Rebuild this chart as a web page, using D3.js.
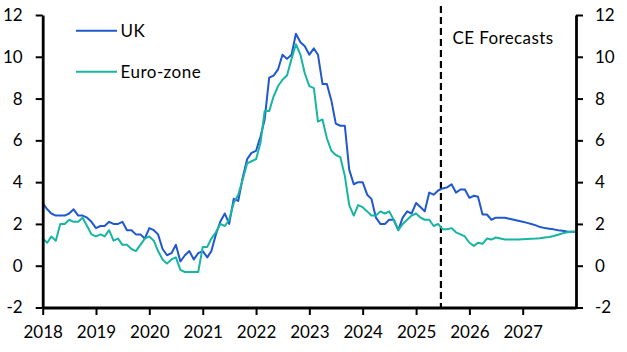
<!DOCTYPE html>
<html>
<head>
<meta charset="utf-8">
<script src="https://cdn.jsdelivr.net/npm/d3@7"></script>
<style>
  body { margin: 0; background: #fff; }
  svg text { font-family: Lato, "Open Sans", sans-serif; }
</style>
</head>
<body>
<div id="chart"></div>
<script>
// monthly CPI inflation (% y/y), Jan 2018 .. Jan 2028
const startYear = 2018;
const forecastStart = new Date(2025, 5, 20); // dashed line, after Jun 2025

const ukValues = [
  3.0, 2.7, 2.5, 2.4, 2.4, 2.4, 2.5, 2.7, 2.4, 2.4, 2.3, 2.1,
  1.8, 1.9, 1.9, 2.1, 2.0, 2.0, 2.1, 1.7, 1.7, 1.5, 1.5, 1.3,
  1.8, 1.7, 1.5, 0.8, 0.5, 0.6, 1.0, 0.2, 0.5, 0.7, 0.3, 0.6,
  0.7, 0.4, 0.7, 1.5, 2.1, 2.5, 2.0, 3.2, 3.1, 4.2, 5.1, 5.4,
  5.5, 6.2, 7.0, 9.0, 9.1, 9.4, 10.1, 9.9, 10.1, 11.1, 10.7, 10.5,
  10.1, 10.4, 10.1, 8.7, 8.7, 7.9, 6.8, 6.7, 6.7, 4.6, 3.9, 4.0,
  4.0, 3.4, 3.2, 2.3, 2.0, 2.0, 2.2, 2.2, 1.7, 2.3, 2.6, 2.5,
  3.0, 2.8, 2.6, 3.5, 3.4, 3.6, 3.7, 3.75, 3.9, 3.5, 3.65, 3.65,
  3.25, 3.35, 3.3, 2.45, 2.45, 2.2, 2.3, 2.3, 2.3, 2.25, 2.2, 2.15,
  2.1, 2.05, 2.0, 1.93, 1.85, 1.8, 1.77, 1.74, 1.7, 1.67, 1.64, 1.63,
  1.62
];

const euroValues = [
  1.3, 1.1, 1.4, 1.2, 2.0, 2.0, 2.2, 2.1, 2.1, 2.3, 1.9, 1.5,
  1.4, 1.5, 1.4, 1.7, 1.2, 1.3, 1.0, 1.0, 0.8, 0.7, 1.0, 1.3,
  1.4, 1.2, 0.7, 0.3, 0.1, 0.3, 0.4, -0.2, -0.3, -0.3, -0.3, -0.3,
  0.9, 0.9, 1.3, 1.6, 2.0, 1.9, 2.2, 3.0, 3.4, 4.1, 4.9, 5.0,
  5.1, 5.9, 7.4, 7.4, 8.1, 8.6, 8.9, 9.1, 9.9, 10.6, 10.1, 9.2,
  8.6, 8.5, 6.9, 7.0, 6.1, 5.5, 5.3, 5.2, 4.3, 2.9, 2.4, 2.9,
  2.8, 2.6, 2.4, 2.4, 2.6, 2.5, 2.6, 2.2, 1.7, 2.0, 2.2, 2.4,
  2.5, 2.3, 2.2, 2.2, 1.9, 2.0, 1.75, 1.75, 1.8, 1.6, 1.5, 1.4,
  1.1, 0.95, 1.1, 1.05, 1.3, 1.25, 1.35, 1.3, 1.25, 1.25, 1.25, 1.25,
  1.27, 1.28, 1.29, 1.3, 1.32, 1.35, 1.37, 1.42, 1.48, 1.55, 1.6, 1.63,
  1.63
];

const yTicks = [-2, 0, 2, 4, 6, 8, 10, 12];
const xTickYears = [2018, 2019, 2020, 2021, 2022, 2023, 2024, 2025, 2026, 2027];

const series = [
  { name: "UK", values: ukValues, color: "#2157cf" },
  { name: "Euro-zone", values: euroValues, color: "#17b5a2" }
];

const width = 627;
const height = 352;
const marginLeft = 42.7;
const marginRight = 51;
const marginTop = 15;
const marginBottom = 44.5;

const monthDate = i => new Date(startYear, i, 1);

const x = d3.scaleTime()
    .domain([new Date(2018, 0, 1), new Date(2028, 0, 1)])
    .range([marginLeft, width - marginRight]);

const y = d3.scaleLinear()
    .domain([-2, 12])
    .range([height - marginBottom, marginTop]);

const svg = d3.select("#chart")
  .append("svg")
    .attr("width", width)
    .attr("height", height)
    .attr("viewBox", [0, 0, width, height]);

svg.append("rect").attr("width", width).attr("height", height).attr("fill", "#fff");

// forecast divider
svg.append("line")
    .attr("x1", x(forecastStart))
    .attr("x2", x(forecastStart))
    .attr("y1", 6)
    .attr("y2", y(-2))
    .attr("stroke", "#000")
    .attr("stroke-width", 2.2)
    .attr("stroke-dasharray", "7,4");

svg.append("text")
    .attr("x", x(forecastStart) + 11.5)
    .attr("y", 43.5)
    .attr("font-size", 17)
    .attr("letter-spacing", 0.4)
    .attr("fill", "#000")
    .text("CE Forecasts");

const line = d3.line()
    .x((d, i) => x(monthDate(i)))
    .y(d => y(d));

svg.append("g")
  .selectAll("path")
  .data(series)
  .join("path")
    .attr("fill", "none")
    .attr("stroke", d => d.color)
    .attr("stroke-width", 2)
    .attr("stroke-linejoin", "round")
    .attr("d", d => line(d.values));

function styleAxis(g) {
  g.select(".domain").attr("stroke-width", 2.8);
  g.selectAll(".tick line").attr("stroke-width", 2);
  g.selectAll(".tick text").attr("font-size", 17).attr("fill", "#000");
  g.attr("font-family", null);
}

// plain hyphen for negatives, as in the original
const numFmt = d => String(d);

svg.append("g")
    .attr("transform", `translate(${marginLeft},0)`)
    .call(d3.axisLeft(y).tickValues(yTicks).tickFormat(numFmt)
        .tickSize(7).tickSizeOuter(0).tickPadding(13))
    .call(styleAxis);

svg.append("g")
    .attr("transform", `translate(${width - marginRight},0)`)
    .call(d3.axisRight(y).tickValues(yTicks).tickFormat(numFmt)
        .tickSize(7).tickSizeOuter(0).tickPadding(12))
    .call(styleAxis);

svg.append("g")
    .attr("transform", `translate(0,${height - marginBottom})`)
    .call(d3.axisBottom(x)
        .tickValues(xTickYears.map(yr => new Date(yr, 0, 1)))
        .tickFormat(d3.timeFormat("%Y"))
        .tickSize(7.5).tickSizeOuter(0).tickPadding(10.5))
    .call(styleAxis);

// legend
const legend = svg.append("g")
  .selectAll("g")
  .data(series)
  .join("g")
    .attr("transform", (d, i) => `translate(76,${30.7 + i * 41})`);

legend.append("line")
    .attr("x1", 0).attr("x2", 41)
    .attr("stroke", d => d.color)
    .attr("stroke-width", 2);

legend.append("text")
    .attr("x", 44.5)
    .attr("y", 6.3)
    .attr("font-size", 17)
    .attr("letter-spacing", 0.5)
    .attr("fill", "#000")
    .text(d => d.name);
</script>
</body>
</html>
